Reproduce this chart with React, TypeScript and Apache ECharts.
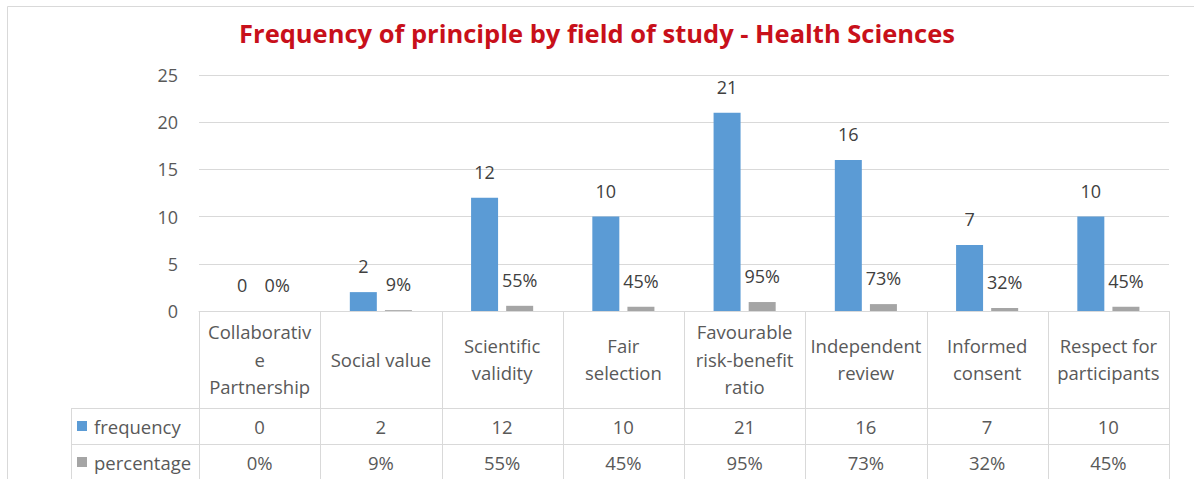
import React, { useEffect, useRef } from "react";
import * as echarts from "echarts";

const categories = [
  "Collaborativ\ne\nPartnership",
  "Social value",
  "Scientific\nvalidity",
  "Fair\nselection",
  "Favourable\nrisk-benefit\nratio",
  "Independent\nreview",
  "Informed\nconsent",
  "Respect for\nparticipants",
];
const frequency = [0, 2, 12, 10, 21, 16, 7, 10];
const percentage = [0, 0.09, 0.55, 0.45, 0.95, 0.73, 0.32, 0.45];
const seriesNames = ["frequency", "percentage"];
const seriesColors = ["#5B9BD5", "#A5A5A5"];
const yMin = 0;
const yMax = 25;
const yInterval = 5;

const TEXT = "#595959";
const LINE = "#D9D9D9";
const FONT = "Open Sans";
const FS = 18.5;

const pct = (v: number) => Math.round(v * 100) + "%";

export default function App() {
  const ref = useRef<HTMLDivElement>(null);
  useEffect(() => {
    if (!ref.current) return;
    const chart = echarts.init(ref.current, null, { renderer: "svg" });
    const labelStyle = { color: "#404040", fontSize: 18, fontFamily: FONT };
    chart.setOption({
      animation: false,
      backgroundColor: "#ffffff",
      title: {
        text: "Frequency of principle by field of study - Health Sciences",
        left: "center",
        top: 15,
        textStyle: { fontFamily: FONT, fontWeight: "bold", fontSize: 25.5, color: "#C8101A" },
      },
      grid: { left: 199, right: 25, top: 75, bottom: 168 },
      xAxis: {
        type: "category",
        data: categories,
        axisLine: { show: true, lineStyle: { color: LINE } },
        axisTick: { show: false },
        axisLabel: {
          interval: 0,
          margin: 48,
          verticalAlign: "middle",
          color: TEXT,
          fontSize: FS,
          lineHeight: 27.5,
          fontFamily: FONT,
        },
      },
      yAxis: {
        type: "value",
        min: yMin,
        max: yMax,
        interval: yInterval,
        axisLine: { show: false },
        axisTick: { show: false },
        axisLabel: { color: TEXT, fontSize: 18, fontFamily: FONT, margin: 21 },
        splitLine: { lineStyle: { color: LINE } },
      },
      series: [
        {
          name: seriesNames[0],
          type: "bar",
          data: frequency,
          barWidth: 27,
          barGap: "30%",
          itemStyle: { color: seriesColors[0] },
          label: { show: true, position: "top", distance: 17, ...labelStyle },
        },
        {
          name: seriesNames[1],
          type: "bar",
          data: percentage,
          barWidth: 27,
          barGap: "30%",
          itemStyle: { color: seriesColors[1] },
          label: {
            show: true,
            position: "top",
            distance: 17,
            formatter: (p: any) => pct(p.value),
            ...labelStyle,
          },
        },
      ],
    });

    // Data table drawn from the axis scales
    const c0 = chart.convertToPixel({ xAxisIndex: 0 }, 0) as number;
    const c1 = chart.convertToPixel({ xAxisIndex: 0 }, 1) as number;
    const bw = c1 - c0;
    const y0 = Math.round(chart.convertToPixel({ yAxisIndex: 0 }, 0) as number);
    const headerH = 97;
    const rowH = 36;
    const row1 = y0 + headerH;
    const row2 = row1 + rowH;
    const bottom = 479;
    const tableLeft = 71;
    const left = c0 - bw / 2;
    const right = c0 + bw * (categories.length - 0.5);
    const els: any[] = [];
    const line = (x1: number, y1: number, x2: number, y2: number) => ({
      type: "line",
      silent: true,
      shape: { x1, y1, x2, y2 },
      style: { stroke: LINE, lineWidth: 1 },
    });
    const text = (x: number, y: number, t: string, align: string) => ({
      type: "text",
      silent: true,
      x,
      y,
      style: {
        text: t,
        fill: TEXT,
        font: `${FS}px "${FONT}"`,
        textAlign: align,
        textVerticalAlign: "middle",
        align,
        verticalAlign: "middle",
      },
    });
    // outer chart border
    els.push({
      type: "rect",
      silent: true,
      shape: { x: 7.5, y: 6.5, width: 1200, height: 500 },
      style: { fill: "none", stroke: LINE, lineWidth: 1 },
    });
    for (let i = 0; i <= categories.length; i++) {
      const x = Math.round(left + bw * i) + 0.5;
      els.push(line(x, y0, x, bottom));
    }
    els.push(line(tableLeft + 0.5, row1, tableLeft + 0.5, bottom));
    els.push(line(tableLeft, row1 + 0.5, right, row1 + 0.5));
    els.push(line(tableLeft, row2 + 0.5, right, row2 + 0.5));
    const rows = [frequency.map(String), percentage.map(pct)];
    rows.forEach((vals, r) => {
      const yc = row1 + rowH * r + rowH / 2;
      els.push({
        type: "rect",
        silent: true,
        shape: { x: tableLeft + 6, y: yc - 5, width: 10, height: 10 },
        style: { fill: seriesColors[r] },
      });
      els.push(text(tableLeft + 23, yc, seriesNames[r], "left"));
      vals.forEach((v, i) => {
        const xc = chart.convertToPixel({ xAxisIndex: 0 }, i) as number;
        els.push(text(xc, yc, v, "center"));
      });
    });
    chart.setOption({ graphic: { elements: els } });

    return () => chart.dispose();
  }, []);
  return (
    <div
      ref={ref}
      style={{ position: "absolute", left: 0, top: 0, width: 1194, height: 479, background: "#fff" }}
    />
  );
}
